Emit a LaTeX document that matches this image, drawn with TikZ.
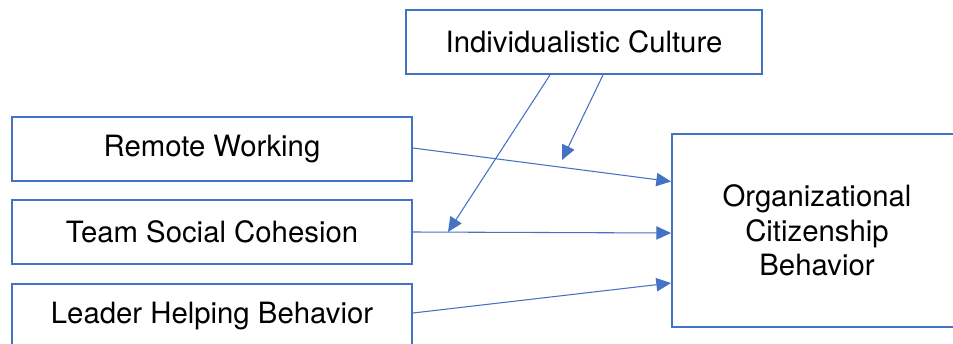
\documentclass[tikz,border=0pt]{standalone}
\usepackage{fontspec}
\setmainfont{TeX Gyre Heros}
\usetikzlibrary{arrows.meta,calc}
\definecolor{boxblue}{HTML}{4472C4}
\begin{document}
\begin{tikzpicture}[x=0.75pt, y=-0.75pt,
    varbox/.style={draw=boxblue, line width=1.5pt, align=center, inner sep=0pt,
        font=\fontsize{22}{26}\selectfont},
    path/.style={draw=boxblue, line width=0.8pt, -{Triangle[length=11pt, width=10pt]}}]
    \useasboundingbox (0,0) rectangle (953,343);

    % Moderator
    \node[varbox, minimum width=356*0.75pt, minimum height=64*0.75pt] (ind) at (584,42) {Individualistic Culture};

    % Predictors
    \node[varbox, minimum width=400*0.75pt, minimum height=64*0.75pt] (rw) at (212,149) {Remote Working};
    \node[varbox, minimum width=400*0.75pt, minimum height=64*0.75pt] (tsc) at (212,232) {Team Social Cohesion};
    \node[varbox, minimum width=400*0.75pt, minimum height=64*0.75pt] (lhb) at (212,316) {Leader Helping Behavior};

    % Outcome
    \node[varbox, minimum width=290*0.75pt, minimum height=193*0.75pt] (ocb) at (817,230.5) {Organizational\\Citizenship\\Behavior};

    % Connector ends
    \coordinate (rwin) at ($(ocb.west)+(0,-49)$);
    \coordinate (tscin) at ($(ocb.west)+(0,2.5)$);
    \coordinate (lhbin) at ($(ocb.west)+(0,52.5)$);
    \coordinate (modtsc) at (448,232);
    \coordinate (modrw) at (562,160);

    % Direct effects
    \draw[path] ($(rw.east)+(0,-1)$) -- (rwin);
    \draw[path] (tsc.east) -- (tscin);
    \draw[path] ($(lhb.east)+(0,-3)$) -- (lhbin);

    % Moderating effects
    \draw[path] ($(ind.south)+(-34,0)$) -- (modtsc);
    \draw[path] ($(ind.south)+(19,0)$) -- (modrw);
\end{tikzpicture}
\end{document}
